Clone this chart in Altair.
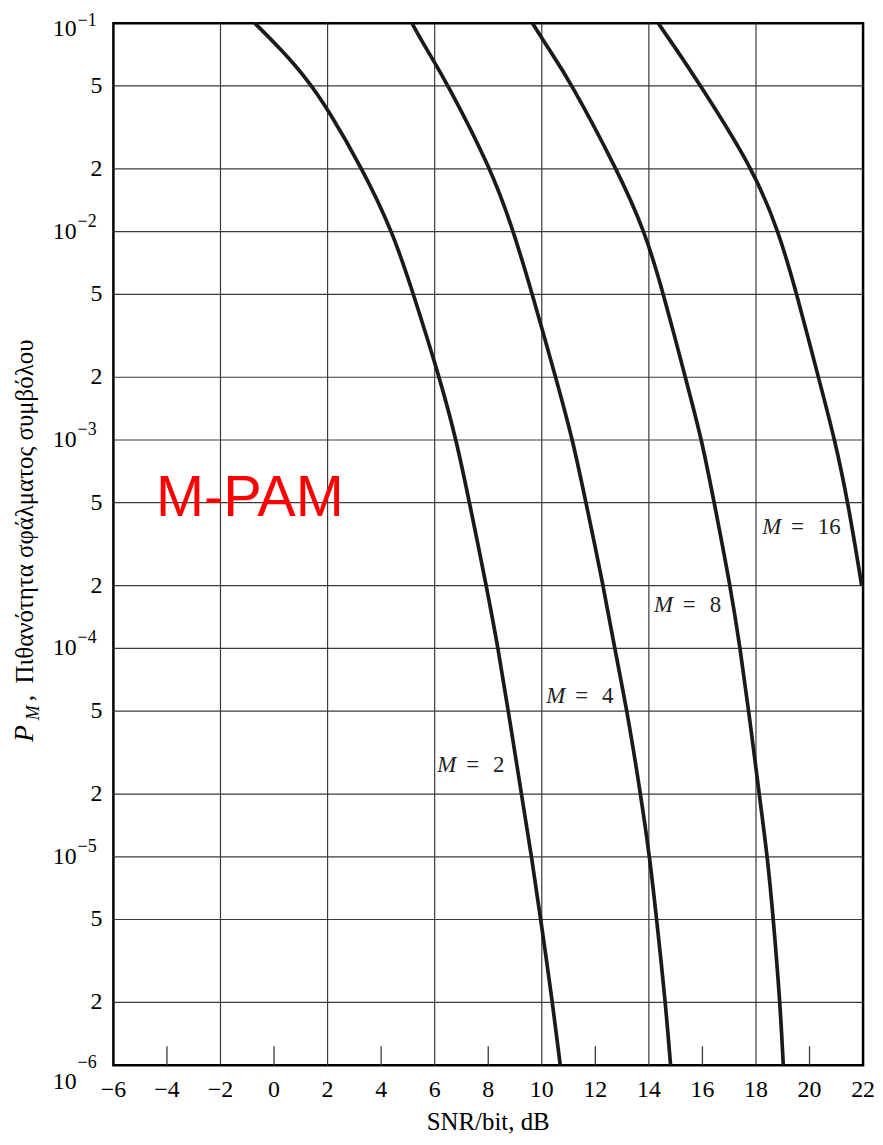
import altair as alt
import pandas as pd

# ---------------- data ----------------
m2_snr = [-0.72, 0.27, 1.23, 2.0, 3.30, 4.43, 5.21, 6.18, 6.81, 7.30, 7.93, 8.37, 8.75, 9.24, 9.62, 9.96, 10.40, 10.69]
m2_p = [1e-1, 7.47e-2, 5.4e-2, 3.89e-2, 2e-2, 1e-2, 5e-3, 2e-3, 1e-3, 5e-4, 2e-4, 1e-4, 5e-5, 2e-5, 1e-5, 5e-6, 2e-6, 1e-6]

m4_snr = [5.15, 5.70, 6.38, 8.11, 8.95, 9.65, 10.52, 11.16, 11.65, 12.30, 12.72, 13.19, 13.69, 14.03, 14.29, 14.62, 14.81]
m4_p = [1e-1, 7.47e-2, 5.4e-2, 2e-2, 1e-2, 5e-3, 2e-3, 1e-3, 5e-4, 2e-4, 1e-4, 5e-5, 2e-5, 1e-5, 5e-6, 2e-6, 1e-6]

m8_snr = [9.65, 10.27, 11.01, 12.80, 13.86, 14.55, 15.36, 15.98, 16.44, 17.04, 17.41, 17.73, 18.12, 18.43, 18.65, 18.90, 19.02]
m8_p = [1e-1, 7.47e-2, 5.4e-2, 2e-2, 1e-2, 5e-3, 2e-3, 1e-3, 5e-4, 2e-4, 1e-4, 5e-5, 2e-5, 1e-5, 5e-6, 2e-6, 1e-6]

m16_snr = [14.35, 15.03, 15.77, 17.90, 18.85, 19.53, 20.33, 20.95, 21.44, 21.95]
m16_p = [1e-1, 7.47e-2, 5.4e-2, 2e-2, 1e-2, 5e-3, 2e-3, 1e-3, 5e-4, 2e-4]

curve_names = ["M=2", "M=4", "M=8", "M=16"]

x_tick_vals = list(range(-6, 23, 2))
x_tick_text = ["\u22126", "\u22124", "\u22122", "0", "2", "4", "6", "8", "10",
               "12", "14", "16", "18", "20", "22"]
x_grid_vals = [-2, 2, 6, 10, 14, 18]
x_inner_ticks = [-4, 0, 4, 8, 12, 16, 20]

y_grid_vals = [5e-2, 2e-2, 1e-2, 5e-3, 2e-3, 1e-3, 5e-4, 2e-4, 1e-4,
               5e-5, 2e-5, 1e-5, 5e-6, 2e-6]
y_mant_vals = [5e-2, 2e-2, 5e-3, 2e-3, 5e-4, 2e-4, 5e-5, 2e-5, 5e-6, 2e-6]
y_mant_text = ["5", "2", "5", "2", "5", "2", "5", "2", "5", "2"]
y_pow_mid_vals = [1e-2, 1e-3, 1e-4, 1e-5]
y_pow_mid_exp = ["\u22122", "\u22123", "\u22124", "\u22125"]
y_pow_top_vals = [1e-1]
y_pow_top_exp = ["\u22121"]
y_pow_bot_vals = [1e-6]
y_pow_bot_exp = ["\u22126"]

lab_snr = [6.10, 10.17, 14.19, 18.23]
lab_p = [2.55e-5, 5.48e-5, 1.49e-4, 3.53e-4]
lab_num = ["2", "4", "8", "16"]

title_snr = [-4.41]
title_p = [4.33e-4]
title_text = ["M-PAM"]

x_title = ["SNR/bit, dB"]
y_title_main = ["Πιθανότητα σφάλματος συμβόλου"]

# ---------------- build tables ----------------
rows = []
for name, xs_, ys_ in zip(curve_names, [m2_snr, m4_snr, m8_snr, m16_snr], [m2_p, m4_p, m8_p, m16_p]):
    for i, (a, b) in enumerate(zip(xs_, ys_)):
        rows.append({"snr": a, "p": b, "M": name, "i": i})
curves = pd.DataFrame(rows)

W, H = 754, 1048
SERIF = "Liberation Serif"
INK = "#1a1a1a"
GRID = "#3a3a3a"

xs = alt.Scale(domain=[-6, 22], nice=False, zero=False)
ys = alt.Scale(type="log", domain=[1e-6, 1e-1], nice=False)


def X(field="snr"):
    return alt.X(f"{field}:Q", scale=xs, axis=None)


def Y(field="p"):
    return alt.Y(f"{field}:Q", scale=ys, axis=None)


xgrid = alt.Chart(pd.DataFrame({"snr": x_grid_vals})).mark_rule(
    color=GRID, strokeWidth=1.2).encode(x=X(), y=alt.value(0), y2=alt.value(H))

ygrid = alt.Chart(pd.DataFrame({"p": y_grid_vals})).mark_rule(
    color=GRID, strokeWidth=1.2).encode(y=Y(), x=alt.value(0), x2=alt.value(W))

xticks = alt.Chart(pd.DataFrame({"snr": x_inner_ticks})).mark_rule(
    color=GRID, strokeWidth=1.3).encode(x=X(), y=alt.value(H), y2=alt.value(H - 19))

lines = alt.Chart(curves).mark_line(
    color=INK, strokeWidth=3.7, interpolate="basis").encode(
    x=X(), y=Y(), detail="M:N", order="i:Q")

xlab = alt.Chart(pd.DataFrame({"snr": x_tick_vals, "t": x_tick_text})).mark_text(
    font=SERIF, fontSize=24, align="center", baseline="alphabetic", color="black").encode(
    x=X(), y=alt.value(H + 32), text="t:N")

xtit = alt.Chart(pd.DataFrame({"t": x_title})).mark_text(
    font=SERIF, fontSize=25, align="center", baseline="alphabetic", color="black").encode(
    x=alt.value(W / 2), y=alt.value(H + 65), text="t:N")

ymant = alt.Chart(pd.DataFrame({"p": y_mant_vals, "t": y_mant_text})).mark_text(
    font=SERIF, fontSize=24, align="right", baseline="middle", color="black").encode(
    y=Y(), x=alt.value(-11), text="t:N")


def pow_marks(vals, exps, dy10, dye):
    df = pd.DataFrame({"p": vals, "e": exps})
    ten = alt.Chart(df).mark_text(
        font=SERIF, fontSize=24, align="right", baseline="middle", color="black",
        text="10", dy=dy10).encode(y=Y(), x=alt.value(-37))
    ex = alt.Chart(df).mark_text(
        font=SERIF, fontSize=18, align="left", baseline="middle", color="black",
        dy=dye).encode(y=Y(), x=alt.value(-36), text="e:N")
    return [ten, ex]


pow_layers = (pow_marks(y_pow_mid_vals, y_pow_mid_exp, 0, -10)
              + pow_marks(y_pow_top_vals, y_pow_top_exp, 6, -2)
              + pow_marks(y_pow_bot_vals, y_pow_bot_exp, 17, -2))

labdf = pd.DataFrame({"snr": lab_snr, "p": lab_p, "num": lab_num})
labM = alt.Chart(labdf).mark_text(
    font=SERIF, fontSize=23, fontStyle="italic", align="left", baseline="alphabetic",
    color="#222", text="M").encode(x=X(), y=Y())
labEq = alt.Chart(labdf).mark_text(
    font=SERIF, fontSize=23, align="left", baseline="alphabetic", color="#222",
    text="=", dx=29).encode(x=X(), y=Y())
labN = alt.Chart(labdf).mark_text(
    font=SERIF, fontSize=23, align="left", baseline="alphabetic", color="#222",
    dx=56).encode(x=X(), y=Y(), text="num:N")

big = alt.Chart(pd.DataFrame({"snr": title_snr, "p": title_p, "t": title_text})).mark_text(
    font="Liberation Sans", fontSize=58, align="left", baseline="alphabetic",
    color="#ff0000").encode(x=X(), y=Y(), text="t:N")

one = pd.DataFrame({"t": y_title_main})
yt_P = alt.Chart(one).mark_text(font=SERIF, fontSize=28, fontStyle="italic", angle=270,
                                align="left", baseline="alphabetic", color="black",
                                text="P").encode(x=alt.value(-81), y=alt.value(723))
yt_M = alt.Chart(one).mark_text(font=SERIF, fontSize=18, fontStyle="italic", angle=270,
                                align="left", baseline="alphabetic", color="black",
                                text="M").encode(x=alt.value(-75), y=alt.value(701))
yt_c = alt.Chart(one).mark_text(font=SERIF, fontSize=25, angle=270,
                                align="left", baseline="alphabetic", color="black",
                                text=",").encode(x=alt.value(-81), y=alt.value(682))
yt_g = alt.Chart(one).mark_text(font=SERIF, fontSize=25, angle=270,
                                align="left", baseline="alphabetic", color="black").encode(
    x=alt.value(-81), y=alt.value(664), text="t:N")

chart = alt.layer(xgrid, ygrid, xticks, lines, xlab, xtit, ymant, *pow_layers,
                  labM, labEq, labN, big, yt_P, yt_M, yt_c, yt_g).properties(
    width=W, height=H,
    autosize=alt.AutoSizeParams(type="none"),
    padding={"left": 106, "top": 12, "right": 12, "bottom": 77},
    background="white",
).configure_view(stroke="black", strokeWidth=2.5)

chart.save("out.html", embed_options={"renderer": "svg", "actions": False})
